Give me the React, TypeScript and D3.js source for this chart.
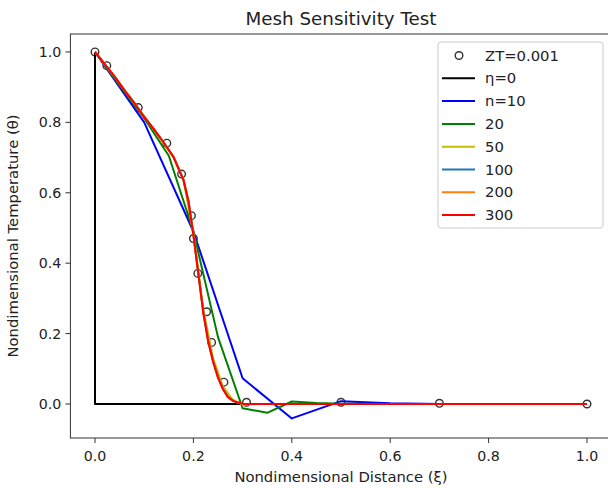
import React from "react";
import * as d3 from "d3";

const W = 608;
const H = 488;

// Reference solution markers (ZT=0.001)
const refX = [0, 0.024, 0.088, 0.146, 0.176, 0.196, 0.2, 0.209, 0.227, 0.237, 0.262, 0.308, 0.5, 0.7, 1.0];
const refY = [1.0, 0.961, 0.842, 0.741, 0.653, 0.535, 0.47, 0.371, 0.262, 0.175, 0.062, 0.005, 0.005, 0.002, 0.0];

// η=0
const eta0X = [0, 0, 1.0];
const eta0Y = [1.0, 0, 0];

// n=10
const n10X = [0, 0.1, 0.2, 0.3, 0.4, 0.5, 0.6, 0.7, 0.8, 0.9, 1.0];
const n10Y = [1.0, 0.8, 0.49, 0.073, -0.041, 0.008, 0.002, 0.0, 0.0, 0.0, 0.0];

// n=20
const n20X = [0, 0.05, 0.1, 0.15, 0.2, 0.25, 0.3, 0.35, 0.4, 0.45, 0.5, 0.6, 0.7, 0.8, 0.9, 1.0];
const n20Y = [1.0, 0.905, 0.812, 0.705, 0.49, 0.19, -0.012, -0.025, 0.007, 0.003, 0.001, 0, 0, 0, 0, 0];

// n=50
const n50X = [0, 0.04, 0.08, 0.12, 0.16, 0.18, 0.2, 0.22, 0.24, 0.26, 0.28, 0.3, 0.32, 0.34, 0.4, 0.5, 0.7, 1.0];
const n50Y = [1.0, 0.93, 0.855, 0.78, 0.7, 0.635, 0.485, 0.27, 0.13, 0.05, 0.012, -0.002, 0.0, 0.0, 0, 0, 0, 0];

// n=100
const n100X = [0, 0.02, 0.04, 0.06, 0.08, 0.1, 0.12, 0.14, 0.16, 0.18, 0.19, 0.2, 0.21, 0.22, 0.23, 0.24, 0.25, 0.26, 0.27, 0.28, 0.29, 0.3, 0.32, 0.4, 0.5, 0.7, 1.0];
const n100Y = [1.0, 0.965, 0.93, 0.892, 0.855, 0.816, 0.78, 0.742, 0.702, 0.637, 0.577, 0.482, 0.372, 0.263, 0.18, 0.122, 0.077, 0.044, 0.021, 0.01, 0.004, 0.001, 0, 0, 0, 0, 0];

// n=200
const n200X = [0, 0.02, 0.04, 0.06, 0.08, 0.1, 0.12, 0.14, 0.16, 0.18, 0.19, 0.2, 0.21, 0.22, 0.23, 0.24, 0.25, 0.26, 0.27, 0.28, 0.29, 0.3, 0.32, 0.4, 0.5, 0.7, 1.0];
const n200Y = [1.0, 0.965, 0.93, 0.891, 0.855, 0.815, 0.78, 0.741, 0.701, 0.636, 0.576, 0.481, 0.371, 0.261, 0.179, 0.121, 0.076, 0.043, 0.02, 0.009, 0.004, 0.001, 0, 0, 0, 0, 0];

// n=300
const n300X = [0, 0.02, 0.04, 0.06, 0.08, 0.1, 0.12, 0.14, 0.16, 0.18, 0.19, 0.2, 0.21, 0.22, 0.23, 0.24, 0.25, 0.26, 0.27, 0.28, 0.29, 0.3, 0.32, 0.4, 0.5, 0.7, 1.0];
const n300Y = [1.0, 0.965, 0.93, 0.89, 0.855, 0.815, 0.78, 0.742, 0.7, 0.635, 0.575, 0.48, 0.37, 0.26, 0.178, 0.12, 0.075, 0.042, 0.02, 0.009, 0.004, 0.001, 0, 0, 0, 0, 0];

const xTicks = [0, 0.2, 0.4, 0.6, 0.8, 1.0];
const yTicks = [0, 0.2, 0.4, 0.6, 0.8, 1.0];

const seriesLabels = ["η=0", "n=10", "20", "50", "100", "200", "300"];
const seriesColors = ["#000000", "#0000ff", "#008000", "#bfbf00", "#1f77b4", "#ff7f0e", "#ff0000"];
const seriesX = [eta0X, n10X, n20X, n50X, n100X, n200X, n300X];
const seriesY = [eta0Y, n10Y, n20Y, n50Y, n100Y, n200Y, n300Y];

const FONT = "DejaVu Sans, sans-serif";

export default function App() {
  const left = 70.4;
  const right = 611.6;
  const top = 34;
  const bottom = 438;

  const x = d3.scaleLinear().domain([-0.05, 1.05]).range([left, right]);
  const y = d3.scaleLinear().domain([-0.0966, 1.051]).range([bottom, top]);

  const line = d3
    .line<[number, number]>()
    .x((d) => x(d[0]))
    .y((d) => y(d[1]));

  const legX = 438;
  const legY = 42;
  const rowY = (i: number) => 55.5 + i * 22.8;

  return (
    <svg
      width={W}
      height={H}
      style={{ position: "absolute", left: 0, top: 0, background: "#fff" }}
      fontFamily={FONT}
    >
      <rect x={0} y={0} width={W} height={H} fill="#fff" />
      {/* title */}
      <text x={(left + right) / 2} y={25} textAnchor="middle" fontSize={18.3} fill="#222">
        Mesh Sensitivity Test
      </text>

      {/* markers */}
      {refX.map((v, i) => (
        <circle key={i} cx={x(v)} cy={y(refY[i])} r={3.8} fill="none" stroke="#333" strokeWidth={1.4} />
      ))}

      {/* lines */}
      {seriesX.map((xs, s) => (
        <path
          key={s}
          d={line(xs.map((v, i) => [v, seriesY[s][i]] as [number, number])) || ""}
          fill="none"
          stroke={seriesColors[s]}
          strokeWidth={2}
          strokeLinejoin="round"
        />
      ))}

      {/* spines */}
      <rect x={left} y={top} width={right - left} height={bottom - top} fill="none" stroke="#333" strokeWidth={1} />

      {/* x ticks */}
      {xTicks.map((t) => (
        <g key={t}>
          <line x1={x(t)} x2={x(t)} y1={bottom} y2={bottom + 5} stroke="#333" />
          <text x={x(t)} y={460.5} textAnchor="middle" fontSize={14.2} fill="#222">
            {t.toFixed(1)}
          </text>
        </g>
      ))}
      {/* y ticks */}
      {yTicks.map((t) => (
        <g key={t}>
          <line x1={left - 5} x2={left} y1={y(t)} y2={y(t)} stroke="#333" />
          <text x={left - 9} y={y(t) + 5} textAnchor="end" fontSize={14.2} fill="#222">
            {t.toFixed(1)}
          </text>
        </g>
      ))}

      {/* axis labels */}
      <text x={(left + right) / 2} y={481.5} textAnchor="middle" fontSize={14.8} fill="#222">
        Nondimensional Distance (ξ)
      </text>
      <text
        transform={`translate(18,${(top + bottom) / 2}) rotate(-90)`}
        textAnchor="middle"
        fontSize={14.8}
        fill="#222"
      >
        Nondimensional Temperature (θ)
      </text>

      {/* legend */}
      <rect x={legX} y={legY} width={165} height={186} rx={3} fill="#fff" fillOpacity={0.8} stroke="#ccc" />
      <circle cx={459} cy={rowY(0)} r={3.8} fill="none" stroke="#333" strokeWidth={1.4} />
      <text x={485} y={rowY(0) + 5} fontSize={14.8} fill="#222">
        ZT=0.001
      </text>
      {seriesLabels.map((lab, i) => (
        <g key={lab}>
          <line x1={442} x2={475} y1={rowY(i + 1)} y2={rowY(i + 1)} stroke={seriesColors[i]} strokeWidth={2} />
          <text x={485} y={rowY(i + 1) + 5} fontSize={14.8} fill="#222">
            {lab}
          </text>
        </g>
      ))}
    </svg>
  );
}
